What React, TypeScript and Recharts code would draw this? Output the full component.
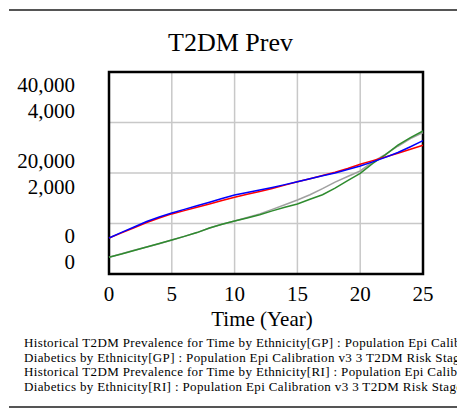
import React from "react";
import { LineChart, Line, XAxis, YAxis, CartesianGrid, ReferenceArea } from "recharts";

const years = [0, 1, 2, 3, 4, 5, 6, 7, 8, 9, 10, 11, 12, 13, 14, 15, 16, 17, 18, 19, 20, 21, 22, 23, 24, 25];
const histGP = [7130, 8250, 9300, 10400, 11300, 12080, 12800, 13500, 14200, 14950, 15640, 16150, 16650, 17150, 17700, 18280, 18850, 19450, 20000, 20700, 21400, 22200, 23100, 24050, 25200, 26400];
const diabGP = [7130, 8150, 9150, 10200, 11100, 11900, 12550, 13200, 13850, 14550, 15200, 15800, 16350, 16950, 17600, 18250, 18850, 19500, 20150, 20900, 21720, 22450, 23150, 23900, 24700, 25480];
const histRI = [331, 400, 470, 535, 600, 673, 745, 820, 910, 985, 1050, 1120, 1190, 1280, 1370, 1465, 1570, 1690, 1820, 1930, 2040, 2220, 2370, 2530, 2680, 2800];
const diabRI = [331, 395, 465, 535, 605, 673, 745, 820, 910, 985, 1050, 1110, 1175, 1250, 1320, 1386, 1480, 1570, 1700, 1850, 1994, 2190, 2360, 2550, 2700, 2832];

const xTicks = [0, 5, 10, 15, 20, 25];
const bigTicks = [0, 20000, 40000];
const bigTickLabels = ["0", "20,000", "40,000"];
const smallTickLabels = ["0", "2,000", "4,000"];
const gridValues = [0, 10000, 20000, 30000, 40000];

const title = "T2DM Prev";
const xLabel = "Time (Year)";
const legendLines = [
  "Historical T2DM Prevalence for Time by Ethnicity[GP] : Population Epi Calibration v3 3 T2DM Risk Stages",
  "Diabetics by Ethnicity[GP] : Population Epi Calibration v3 3 T2DM Risk Stages",
  "Historical T2DM Prevalence for Time by Ethnicity[RI] : Population Epi Calibration v3 3 T2DM Risk Stages",
  "Diabetics by Ethnicity[RI] : Population Epi Calibration v3 3 T2DM Risk Stages",
];

const data = years.map((t, i) => ({
  t,
  histGP: histGP[i],
  diabGP: diabGP[i],
  histRI: histRI[i],
  diabRI: diabRI[i],
}));

const FONT = "'Liberation Serif', 'Times New Roman', serif";

const YTick = (props: any) => {
  const { x, y, payload, index } = props;
  const frac = payload.value / 40000;
  const center = y + (-38 + 51 * frac);
  return (
    <g>
      <text x={x - 32} y={center + 7} textAnchor="end" fontFamily={FONT} fontSize={21} fill="#000">
        {bigTickLabels[index]}
      </text>
      <text x={x - 32} y={center + 33} textAnchor="end" fontFamily={FONT} fontSize={21} fill="#000">
        {smallTickLabels[index]}
      </text>
    </g>
  );
};

const XTick = (props: any) => {
  const { x, y, payload } = props;
  return (
    <text x={x} y={y + 25} textAnchor="middle" fontFamily={FONT} fontSize={21} fill="#000">
      {payload.value}
    </text>
  );
};

const XLabel = (props: any) => {
  const { viewBox } = props;
  const vb = viewBox || { x: 0, y: 0, width: 0, height: 0 };
  return (
    <text x={vb.x + vb.width / 2 - 4} y={vb.y + 52} textAnchor="middle" fontFamily={FONT} fontSize={21} fill="#000">
      {xLabel}
    </text>
  );
};

export default function App() {
  return (
    <div style={{ position: "absolute", left: 0, top: 0, width: 457, height: 410, overflow: "hidden", background: "#fff", fontFamily: FONT }}>
      <div style={{ position: "absolute", left: 9, top: 9, width: 448, height: 2, background: "#555" }} />
      <div style={{ position: "absolute", left: 2, top: 28, width: 457, textAlign: "center", fontSize: 26, lineHeight: "30px", color: "#000" }}>
        {title}
      </div>
      <div style={{ position: "absolute", left: 0, top: 0 }}>
        <LineChart width={457} height={410} data={data} margin={{ top: 72, right: 34, bottom: 106, left: 9 }}>
          <CartesianGrid yAxisId="big" stroke="#c8c8c8" strokeWidth={1.5} horizontalValues={gridValues} verticalValues={xTicks} />
          <XAxis
            dataKey="t"
            type="number"
            domain={[0, 25]}
            ticks={xTicks}
            height={30}
            axisLine={false}
            tickLine={false}
            tickSize={0}
            tick={<XTick />}
            label={<XLabel />}
            interval={0}
          />
          <YAxis
            yAxisId="big"
            type="number"
            domain={[0, 40000]}
            ticks={bigTicks}
            width={100}
            axisLine={false}
            tickLine={false}
            tickSize={0}
            tick={<YTick />}
            interval={0}
          />
          <YAxis yAxisId="small" type="number" domain={[0, 4000]} hide />
          <Line yAxisId="small" type="linear" dataKey="histRI" stroke="#a0a0a0" strokeWidth={1.5} dot={false} isAnimationActive={false} />
          <Line yAxisId="small" type="linear" dataKey="diabRI" stroke="#2e8b2e" strokeWidth={1.5} dot={false} isAnimationActive={false} />
          <Line yAxisId="big" type="linear" dataKey="diabGP" stroke="#ff0000" strokeWidth={1.5} dot={false} isAnimationActive={false} />
          <Line yAxisId="big" type="linear" dataKey="histGP" stroke="#0000ff" strokeWidth={1.5} dot={false} isAnimationActive={false} />
          <ReferenceArea yAxisId="big" x1={0} x2={25} y1={0} y2={40000} fill="none" stroke="#000" strokeWidth={2.5} ifOverflow="visible" />
        </LineChart>
      </div>
      <div style={{ position: "absolute", left: 24, top: 336, fontSize: 13, letterSpacing: "0.36px", lineHeight: "14.7px", color: "#000", whiteSpace: "nowrap" }}>
        {legendLines.map((l, i) => (
          <div key={i}>{l}</div>
        ))}
      </div>
      <div style={{ position: "absolute", left: 9, top: 406, width: 448, height: 2, background: "#555" }} />
    </div>
  );
}
